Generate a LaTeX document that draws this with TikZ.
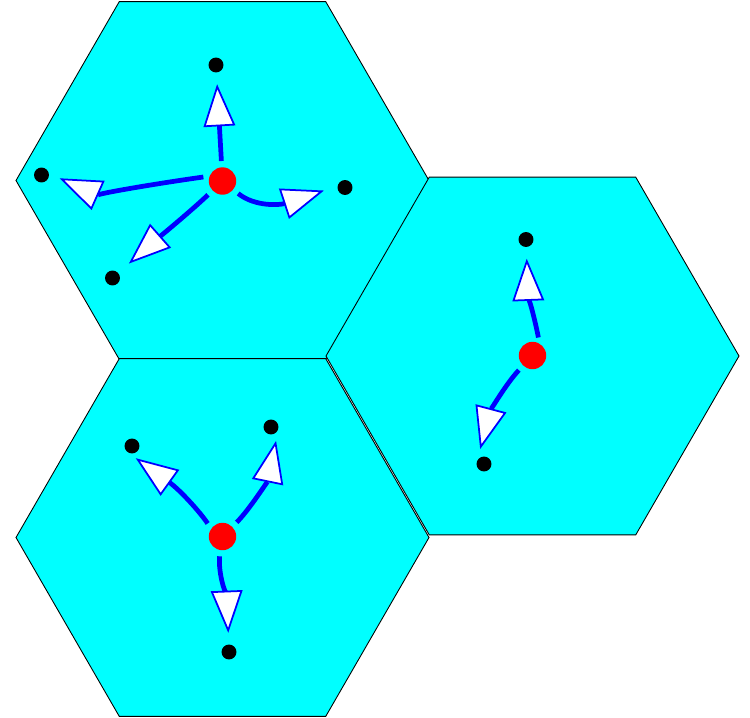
\documentclass[tikz,border=0pt]{standalone}
\usetikzlibrary{arrows.meta}
\definecolor{cellcyan}{RGB}{0,255,255}
\definecolor{hopblue}{RGB}{0,0,255}
\definecolor{srcred}{RGB}{255,0,0}
\tikzset{
  cell/.style={draw=black,line width=.5pt,fill=cellcyan},
  source/.style={circle,fill=srcred,inner sep=0pt,minimum size=15.6pt},
  site/.style={circle,fill=black,inner sep=0pt,minimum size=8.5pt},
  hop/.style={draw=hopblue,line width=2.7pt,shorten <=3.4pt,shorten >=6.5pt,
    -{Triangle[length=24pt,width=18pt,fill=white,line width=1pt]}}}
\begin{document}
\begin{tikzpicture}[x=.02cm,y=-.02cm]
\useasboundingbox (0,0) rectangle (750,717);
\foreach \cx/\cy in {222.5/180.5,532.5/356,222.5/537.5}{
  \draw[cell] (\cx,\cy) +(0:206.5) -- +(60:206.5) -- +(120:206.5) -- +(180:206.5) -- +(240:206.5) -- +(300:206.5) -- cycle;}
% upper left cell
\node[source] (r1) at (222.5,181) {};
\node[site] (s11) at (216,65) {};
\node[site] (s12) at (41.5,175) {};
\node[site] (s13) at (345,187.5) {};
\node[site] (s14) at (112.5,278) {};
\draw[hop] (r1) -- (s11);
\draw[hop] (r1.160) .. controls (160,183) and (95,194) .. (s12.10);
\draw[hop,shorten >=8pt] (r1) .. controls (255,207) and (280,205) .. (s13.170);
\draw[hop,shorten >=8pt] (r1) .. controls (190,212) and (150,245) .. (s14);
% right cell
\node[source] (r2) at (532.5,355.5) {};
\node[site] (s21) at (526,239.5) {};
\node[site] (s22) at (484,464) {};
\draw[hop] (r2.60) .. controls (535,320) and (528,293) .. (s21);
\draw[hop] (r2) .. controls (505,385) and (490,412) .. (s22.150);
% lower left cell
\node[source] (r3) at (222.5,536.5) {};
\node[site] (s31) at (132,446) {};
\node[site] (s32) at (271,427) {};
\node[site] (s33) at (229,652) {};
\draw[hop] (r3.145) .. controls (200,512) and (180,490) .. (s31.south west);
\draw[hop] (r3) .. controls (250,509) and (268,480) .. (s32.-20);
\draw[hop] (r3.260) .. controls (218,575) and (227,600) .. (s33);
\end{tikzpicture}
\end{document}
